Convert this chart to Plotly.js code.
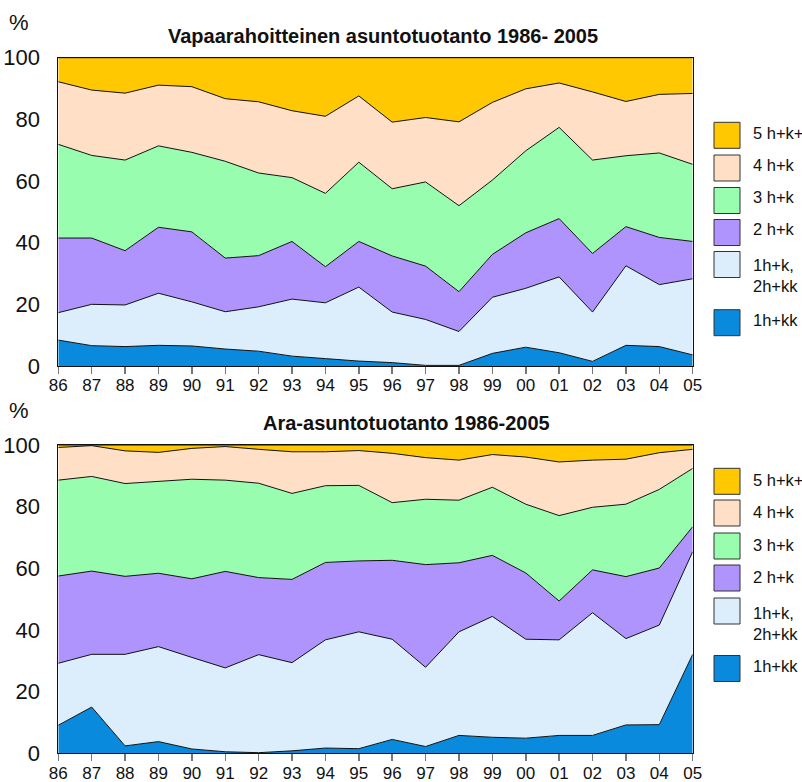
<!DOCTYPE html>
<html>
<head>
<meta charset="utf-8">
<script src="https://cdn.plot.ly/plotly-3.0.1.min.js"></script>
<style>html,body{margin:0;padding:0;background:#fff;}#chart{width:802px;height:782px;}</style>
</head>
<body>
<div id="chart"></div>
<script>
// Years (tick labels)
const years = ["86","87","88","89","90","91","92","93","94","95","96","97","98","99","00","01","02","03","04","05"];

// Series names (bottom to top)
const seriesNames = ["1h+kk", "1h+k, 2h+kk", "2 h+k", "3 h+k", "4 h+k", "5 h+k+"];
const legendLabels = ["5 h+k+", "4 h+k", "3 h+k", "2 h+k", "1h+k,<br>2h+kk", "1h+kk"];
const colors = ["#0A8ADC", "#DCEEFC", "#AE94FC", "#98FDAE", "#FFE0C6", "#FFC800"];

// Top chart: Vapaarahoitteinen asuntotuotanto, shares (%)
const vapaa_1hkk   = [8.4,6.6,6.3,6.7,6.5,5.5,4.8,3.2,2.4,1.6,1.1,0.2,0.2,4.1,6.1,4.3,1.5,6.7,6.3,3.6];
const vapaa_1hk2hkk= [8.9,13.4,13.5,16.9,14.3,12.1,14.4,18.5,18.1,24.0,16.4,14.9,11.0,18.2,19.1,24.6,16.0,25.8,20.1,24.7];
const vapaa_2hk    = [24.2,21.5,17.6,21.4,22.7,17.4,16.6,18.7,11.7,14.8,18.2,17.3,12.9,13.9,18.0,18.9,19.0,12.7,15.3,12.1];
const vapaa_3hk    = [30.4,26.8,29.4,26.4,25.8,31.4,26.8,20.7,23.8,25.7,21.8,27.3,27.9,24.1,26.6,29.6,30.3,23.0,27.4,25.0];
const vapaa_4hk    = [20.3,21.2,21.7,19.7,21.3,20.3,23.1,21.7,25.0,21.5,21.6,20.9,27.2,25.2,20.1,14.4,22.1,17.6,19.0,23.0];
const vapaa_5hk    = [7.8,10.5,11.5,8.9,9.4,13.3,14.3,17.2,19.0,12.4,20.9,19.4,20.8,14.5,10.1,8.2,11.1,14.2,11.9,11.6];

// Bottom chart: Ara-asuntotuotanto, shares (%)
const ara_1hkk   = [9.1,15.0,2.4,3.8,1.4,0.5,0.2,0.8,1.7,1.5,4.5,2.2,5.8,5.2,4.9,5.8,5.8,9.2,9.3,32.1];
const ara_1hk2hkk= [20.1,17.1,29.7,30.8,29.7,27.2,31.8,28.6,35.1,37.9,32.5,25.7,33.6,39.2,32.1,31.0,39.8,28.0,32.3,33.3];
const ara_2hk    = [28.3,27.0,25.3,23.8,25.5,31.3,25.0,27.0,25.1,23.0,25.6,33.3,22.4,19.8,21.5,12.6,13.9,20.1,18.5,8.1];
const ara_3hk    = [31.1,30.7,30.1,29.8,32.3,29.6,30.6,27.9,24.9,24.5,18.7,21.2,20.3,22.1,22.3,27.7,20.3,23.5,25.5,18.9];
const ara_4hk    = [10.6,10.0,10.6,9.4,10.0,10.9,11.0,13.5,11.0,11.3,16.0,13.5,13.0,10.6,15.3,17.4,15.3,14.6,11.9,6.2];
const ara_5hk    = [0.8,0.2,1.9,2.4,1.1,0.5,1.4,2.2,2.2,1.8,2.7,4.1,4.9,3.1,3.9,5.5,4.9,4.6,2.5,1.4];

const titleTop = "Vapaarahoitteinen asuntotuotanto 1986- 2005";
const titleBottom = "Ara-asuntotuotanto 1986-2005";

const vapaa = [vapaa_1hkk, vapaa_1hk2hkk, vapaa_2hk, vapaa_3hk, vapaa_4hk, vapaa_5hk];
const ara = [ara_1hkk, ara_1hk2hkk, ara_2hk, ara_3hk, ara_4hk, ara_5hk];

const W = 802, H = 782;
const px = x => x / W;
const py = y => 1 - y / H;

const traces = [];
vapaa.forEach((vals, i) => {
  traces.push({
    x: years, y: vals, type: "scatter", mode: "lines", stackgroup: "top",
    name: seriesNames[i], line: {color: "#111", width: 1, shape: "linear"},
    fillcolor: colors[i], xaxis: "x", yaxis: "y", hoverinfo: "skip", showlegend: false
  });
});
ara.forEach((vals, i) => {
  traces.push({
    x: years, y: vals, type: "scatter", mode: "lines", stackgroup: "bottom",
    name: seriesNames[i], line: {color: "#111", width: 1, shape: "linear"},
    fillcolor: colors[i], xaxis: "x2", yaxis: "y2", hoverinfo: "skip", showlegend: false
  });
});

const font = "Liberation Sans, Arial, sans-serif";
const xDomain = [px(58.3), px(692.7)];

function xAxis(anchor) {
  return {
    domain: xDomain, anchor: anchor, type: "category", range: [0, 19],
    showgrid: false, zeroline: false, showline: true, linecolor: "#111", linewidth: 1,
    mirror: true, ticks: "outside", ticklen: 7, tickcolor: "#777", tickwidth: 1.5,
    ticklabelstandoff: -3,
    tickfont: {family: font, size: 17, color: "#111"}, automargin: false
  };
}
function yAxis(anchor, dom) {
  return {
    domain: dom, anchor: anchor, range: [0, 100], tickvals: [0,20,40,60,80,100],
    showgrid: false, zeroline: false, showline: true, linecolor: "#111", linewidth: 1,
    mirror: true, ticks: "", ticklabelstandoff: 13,
    tickfont: {family: font, size: 22, color: "#111"}, automargin: false
  };
}

const annotations = [];
const shapes = [];
function addLegend(boxTops, labelYs) {
  boxTops.forEach((t, k) => {
    const colorIdx = 5 - k;
    shapes.push({type: "rect", xref: "paper", yref: "paper",
      x0: px(714), x1: px(740), y0: py(t + 26), y1: py(t),
      fillcolor: colors[colorIdx], line: {color: "#333", width: 1}});
    annotations.push({xref: "paper", yref: "paper", x: px(751), y: py(labelYs[k]),
      xanchor: "left", yanchor: "middle", text: legendLabels[k], showarrow: false,
      align: "left", font: {family: font, size: 16.5, color: "#111"}});
  });
}
addLegend([122.3, 155, 187.5, 219.5, 251.5, 309.7], [133, 165, 197, 229, 275, 320]);
addLegend([468.3, 500, 533, 565, 598, 655.5], [480, 512, 545, 577, 623, 666]);

annotations.push({xref: "paper", yref: "paper", x: px(383), y: py(36), text: "<b>" + titleTop + "</b>",
  showarrow: false, xanchor: "center", yanchor: "middle", font: {family: font, size: 20, color: "#111"}});
annotations.push({xref: "paper", yref: "paper", x: px(406), y: py(423), text: "<b>" + titleBottom + "</b>",
  showarrow: false, xanchor: "center", yanchor: "middle", font: {family: font, size: 20, color: "#111"}});
annotations.push({xref: "paper", yref: "paper", x: px(7), y: py(22), text: "%",
  showarrow: false, xanchor: "left", yanchor: "middle", font: {family: font, size: 22, color: "#111"}});
annotations.push({xref: "paper", yref: "paper", x: px(7), y: py(410), text: "%",
  showarrow: false, xanchor: "left", yanchor: "middle", font: {family: font, size: 22, color: "#111"}});

const layout = {
  width: W, height: H, margin: {l: 0, r: 0, t: 0, b: 0},
  paper_bgcolor: "#fff", plot_bgcolor: "#fff", showlegend: false,
  xaxis: xAxis("y"),
  yaxis: yAxis("x", [py(366), py(57.7)]),
  xaxis2: xAxis("y2"),
  yaxis2: yAxis("x2", [py(753.3), py(445)]),
  annotations: annotations, shapes: shapes
};

Plotly.newPlot("chart", traces, layout, {displayModeBar: false, staticPlot: true});
</script>
</body>
</html>
